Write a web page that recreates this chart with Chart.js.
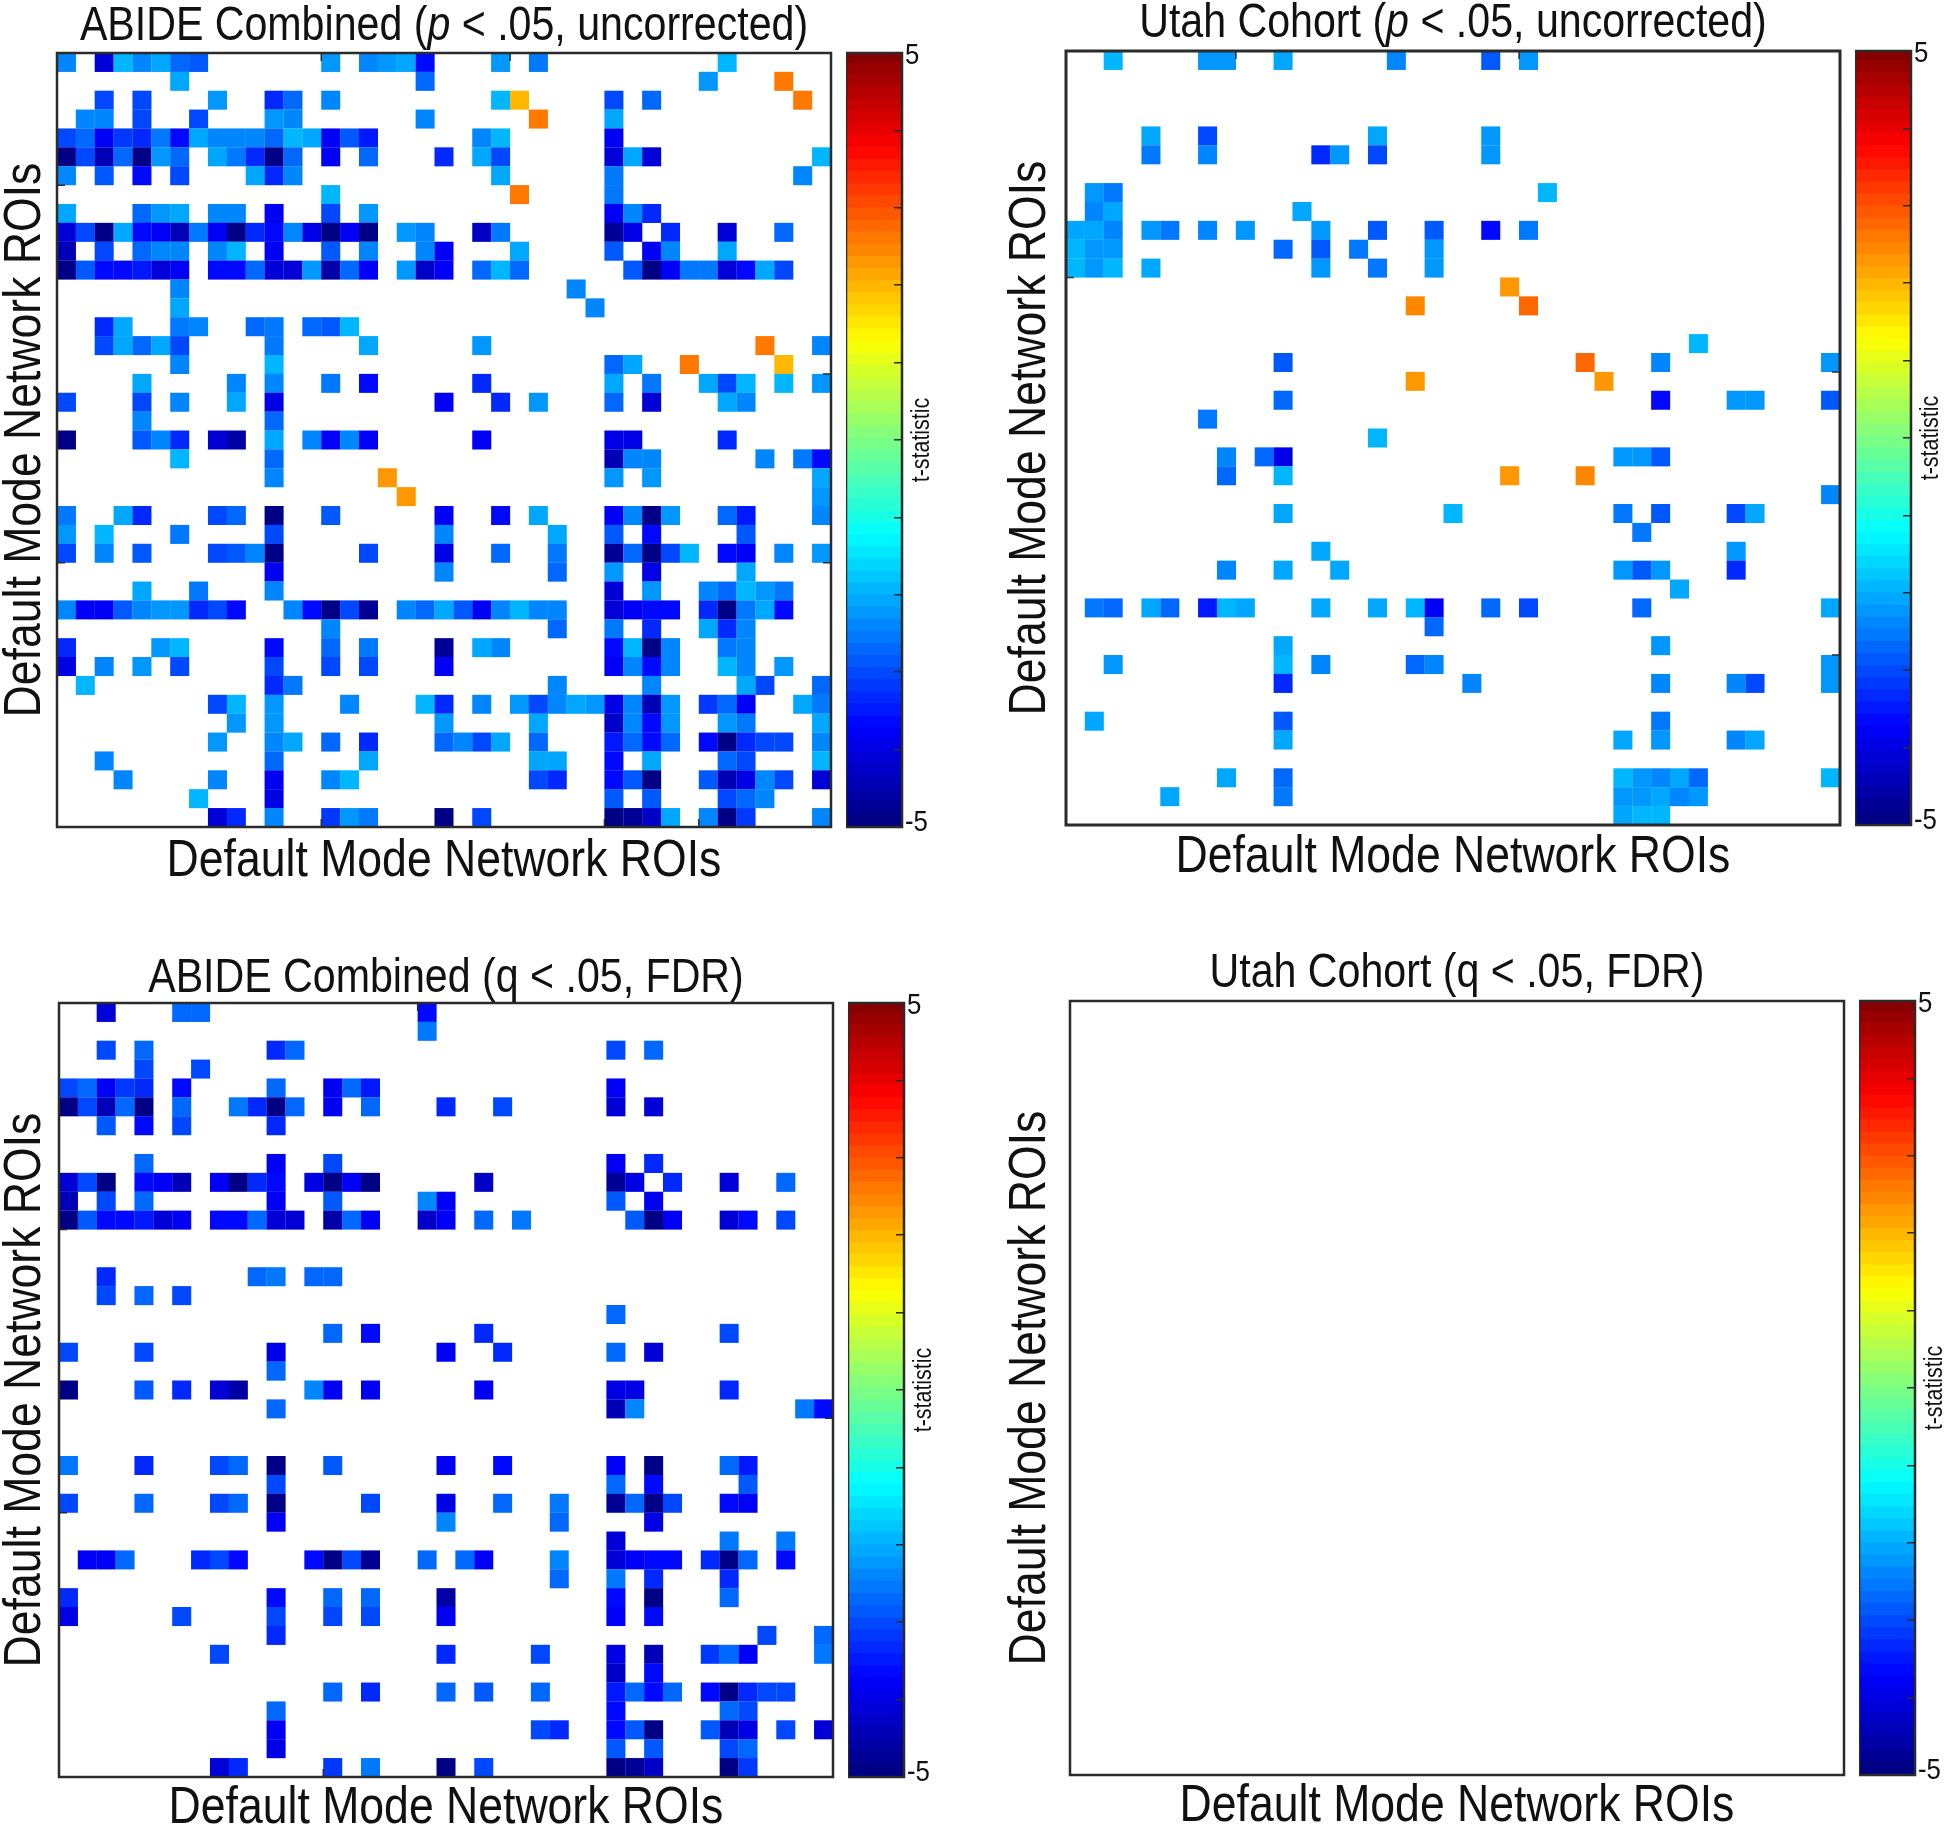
<!DOCTYPE html>
<html>
<head>
<meta charset="utf-8">
<script src="https://cdn.jsdelivr.net/npm/chart.js@4"></script>
<style>
html,body{margin:0;padding:0;background:#fff;width:1946px;height:1825px;overflow:hidden}
canvas{position:absolute}
</style>
</head>
<body>
<script>
// Each row of a matrix lists: column, t-value, column, t-value ...  (row index = position in the list)
const abideUncorrected = [
[0,-2.4,2,-4.1,3,-1.9,4,-2.4,5,-2.1,6,-2.7,7,-2.9,14,-2.2,16,-2.5,17,-2.3,18,-2.1,19,-3.7,23,-2.3,25,-2.6,35,-1.9],
[6,-2.1,19,-2.7,34,-2.3,38,2.5],
[2,-3.1,4,-3.0,8,-2.3,11,-3.4,12,-2.7,14,-2.5,23,-1.9,24,2.0,29,-3.0,31,-2.7,39,2.5],
[1,-2.4,2,-2.4,4,-3.1,7,-3.0,11,-2.2,12,-2.5,19,-2.4,25,2.5,29,-2.1],
[0,-3.1,1,-2.8,2,-3.8,3,-3.2,4,-3.4,5,-2.6,6,-3.7,7,-2.1,8,-2.5,9,-2.5,10,-2.4,11,-2.7,12,-1.9,13,-2.1,14,-3.9,15,-2.9,16,-3.5,22,-2.5,23,-1.9,29,-3.8],
[0,-5,1,-3.0,2,-4.4,3,-2.7,4,-5,5,-2.3,6,-2.8,8,-2.1,9,-2.6,10,-3.3,11,-5,12,-2.7,14,-3.8,16,-2.8,20,-3.3,22,-2.1,23,-3.0,29,-4.2,30,-2.1,31,-4.1,40,-1.9],
[0,-2.5,2,-2.9,4,-3.6,6,-3.1,10,-2.1,11,-3.4,12,-2.4,23,-2.1,29,-2.6,39,-2.4],
[14,-1.9,24,2.5,29,-2.6],
[0,-2.1,4,-2.8,5,-2.3,6,-2.1,8,-2.4,9,-2.4,11,-3.8,14,-3.0,16,-2.3,29,-3.9,30,-2.4,31,-3.4],
[0,-4.2,1,-3.0,2,-5,3,-2.1,4,-3.6,5,-3.8,6,-4.4,7,-2.6,8,-3.8,9,-5,10,-3.3,11,-3.7,12,-2.4,13,-4.0,14,-4.9,15,-3.8,16,-4.9,18,-2.2,19,-2.5,22,-4.3,23,-2.6,29,-4.8,30,-4.0,32,-3.4,35,-4.2,38,-2.7],
[0,-4.5,2,-3.0,4,-2.8,5,-2.4,6,-2.5,8,-2.5,9,-1.9,11,-3.8,14,-2.9,16,-2.5,19,-2.5,20,-3.8,24,-2.1,29,-2.9,31,-3.9,32,-2.4,35,-2.1],
[0,-5,1,-2.9,2,-3.7,3,-3.6,4,-3.5,5,-4.2,6,-3.9,8,-3.7,9,-3.6,10,-2.7,11,-4.1,12,-4.1,13,-2.3,14,-4.6,15,-2.8,16,-3.9,18,-2.3,19,-4.3,20,-3.9,22,-2.7,23,-2.0,24,-2.7,30,-2.9,31,-5,32,-3.9,33,-2.6,34,-2.6,35,-4.2,36,-3.7,37,-2.1,38,-3.1],
[6,-2.5,27,-2.4],
[6,-2.1,28,-2.4],
[2,-3.4,3,-2.1,6,-2.6,7,-2.4,10,-2.8,11,-2.6,13,-2.8,14,-2.9,15,-2.0],
[2,-3.1,3,-2.1,4,-2.8,5,-2.1,6,-3.1,11,-2.6,16,-2.1,22,-2.3,37,2.5,40,-2.5],
[6,-2.4,11,-1.9,29,-2.7,30,-2.1,33,2.5,38,2.0],
[4,-2.1,9,-2.5,11,-2.5,14,-2.6,16,-3.7,22,-3.3,29,-2.1,31,-2.6,34,-2.1,35,-3.0,36,-1.9,38,-1.9,40,-2.2],
[0,-3.1,4,-3.0,6,-2.4,9,-2.1,11,-4.0,20,-3.8,23,-3.3,25,-2.3,29,-2.8,31,-4.1,35,-2.1,36,-2.5],
[4,-2.4,11,-2.8],
[0,-4.9,4,-2.9,5,-2.4,6,-3.4,8,-4.1,9,-4.6,11,-2.1,13,-2.5,14,-3.8,15,-2.4,16,-3.8,22,-3.9,29,-4.0,30,-4.0,35,-3.3],
[6,-1.9,11,-2.8,29,-4.4,30,-2.5,31,-2.5,37,-2.4,39,-2.6,40,-3.7],
[11,-2.4,17,2.2,29,-2.3,31,-2.3,40,-2.1],
[18,2.2,40,-2.2],
[0,-2.6,3,-2.1,4,-3.4,8,-3.0,9,-2.7,11,-4.9,14,-2.9,20,-3.9,23,-3.7,25,-2.1,29,-3.9,30,-2.5,31,-5,32,-2.2,35,-2.8,36,-3.5,40,-2.5],
[0,-2.2,2,-1.9,6,-2.6,11,-3.1,20,-2.4,26,-2.1,29,-2.9,31,-3.7,36,-2.9],
[0,-3.1,2,-2.4,4,-2.9,8,-3.0,9,-2.9,10,-2.4,11,-5,16,-3.0,20,-4.0,23,-2.7,26,-2.6,29,-4.7,30,-2.8,31,-5,32,-3.1,33,-1.9,35,-3.7,36,-3.9,38,-2.5,40,-2.3],
[11,-3.8,20,-2.5,26,-2.8,29,-2.3,31,-4.0,36,-2.1],
[4,-2.1,7,-2.6,11,-2.5,29,-4.2,31,-2.3,34,-2.4,35,-2.7,36,-1.9,37,-2.3,38,-2.6],
[0,-2.5,1,-3.9,2,-3.9,3,-2.9,4,-2.4,5,-2.2,6,-2.2,7,-3.4,8,-3.0,9,-3.6,12,-2.5,13,-3.7,14,-4.9,15,-3.0,16,-4.8,18,-2.4,19,-2.7,20,-2.1,21,-2.9,22,-3.9,23,-2.5,24,-1.9,25,-2.5,26,-2.5,29,-4.1,30,-3.8,31,-3.6,32,-3.6,34,-3.3,35,-5,36,-2.6,37,-2.1,38,-3.6],
[14,-2.4,26,-2.8,29,-2.6,31,-3.3,34,-2.1,35,-3.4,36,-2.4],
[0,-3.4,5,-2.2,6,-1.9,11,-3.6,14,-2.7,16,-2.6,20,-4.7,22,-2.1,23,-2.5,29,-3.7,30,-1.9,31,-5,32,-2.4,35,-2.6,36,-2.4],
[0,-4.0,2,-2.5,4,-2.3,6,-3.1,11,-3.0,14,-3.0,16,-3.0,20,-3.9,29,-3.8,30,-2.5,31,-3.7,32,-2.4,35,-2.0,36,-2.5,38,-2.3],
[1,-1.9,11,-3.4,12,-2.6,26,-2.4,31,-2.5,36,-2.1,37,-3.0,40,-2.8],
[8,-3.0,9,-1.9,11,-2.2,15,-2.5,19,-1.9,20,-3.4,22,-2.4,24,-2.3,25,-3.0,26,-2.5,27,-2.1,28,-2.3,29,-4.0,30,-2.5,31,-4.4,32,-2.2,34,-3.2,35,-2.8,36,-3.8,39,-2.1,40,-2.6],
[9,-2.3,11,-2.2,20,-2.3,25,-2.1,29,-4.3,30,-2.4,31,-3.7,32,-2.3,35,-2.3,36,-2.6,40,-2.1],
[8,-2.3,11,-2.4,12,-2.1,14,-2.8,16,-3.4,20,-2.8,21,-2.4,22,-3.0,23,-2.1,25,-2.8,29,-3.5,30,-2.7,31,-3.7,32,-2.8,34,-3.7,35,-5,36,-3.3,37,-3.1,38,-3.0,40,-2.4],
[2,-2.4,11,-2.8,16,-2.1,25,-2.1,26,-2.1,29,-3.7,31,-2.1,35,-2.7,36,-3.1,40,-1.9],
[3,-2.4,8,-2.5,11,-3.9,14,-2.5,15,-1.9,25,-3.1,26,-3.4,29,-3.7,30,-2.9,31,-5,34,-2.9,35,-4.4,36,-4.0,37,-2.4,38,-3.1,40,-4.2],
[7,-1.9,11,-4.0,29,-2.9,31,-2.9,35,-3.0,36,-2.8,37,-2.4],
[8,-4.2,9,-3.4,11,-2.5,14,-3.2,15,-2.3,16,-2.6,20,-5,22,-3.1,29,-5,30,-4.7,31,-4.3,32,-2.1,34,-2.5,35,-5,36,-3.2,40,-2.4]
];
const utahUncorrected = [
[2,-1.9,7,-2.2,8,-2.2,11,-2.1,17,-2.4,22,-2.9,24,-2.2],
[],[],[],
[4,-2.1,7,-3.0,16,-2.1,22,-2.2],
[4,-2.6,7,-2.4,13,-3.4,14,-2.2,16,-3.0,22,-2.2],
[],
[1,-2.2,2,-2.6,25,-1.9],
[1,-2.4,2,-2.1,12,-2.1],
[0,-2.1,1,-2.1,2,-2.4,4,-2.3,5,-2.6,7,-2.4,9,-2.3,13,-2.3,16,-2.9,19,-2.9,22,-3.6,24,-2.6],
[0,-1.9,1,-2.2,2,-2.2,11,-2.8,13,-2.9,15,-2.6,19,-2.2],
[0,-2.0,1,-2.2,2,-1.9,4,-2.1,13,-2.3,16,-2.6,19,-2.2],
[23,2.2],
[18,2.4,24,2.8],
[],
[33,-1.9],
[11,-2.9,27,2.8,31,-2.5,40,-2.2],
[18,2.2,28,2.2],
[11,-2.8,31,-3.6,35,-2.2,36,-2.2,40,-2.9],
[7,-2.6],
[16,-1.9],
[8,-2.4,10,-2.8,11,-4.0,29,-2.2,30,-2.2,31,-2.9],
[8,-2.8,11,-1.9,23,2.2,27,2.4],
[40,-2.5],
[11,-2.1,20,-1.9,29,-2.6,31,-2.9,35,-3.1,36,-2.1],
[30,-2.6],
[13,-2.1,35,-2.3],
[8,-2.4,11,-2.1,14,-2.1,29,-2.2,30,-2.9,31,-2.2,35,-3.4],
[32,-2.1],
[1,-2.6,2,-2.8,4,-2.1,5,-2.8,7,-3.5,8,-1.9,9,-2.1,13,-2.1,16,-2.1,18,-1.9,19,-3.9,22,-2.8,24,-3.0,30,-2.8,40,-2.1],
[19,-2.7],
[11,-2.1,31,-2.3],
[2,-2.2,11,-1.9,13,-2.4,18,-2.8,19,-2.4,40,-2.2],
[11,-3.4,21,-2.5,31,-2.4,35,-2.4,36,-3.0,40,-2.2],
[],
[1,-2.1,11,-2.9,31,-2.6],
[11,-2.1,29,-2.1,31,-2.3,35,-2.5,36,-2.1],
[],
[8,-2.1,11,-2.8,29,-1.9,30,-2.3,31,-2.4,32,-2.1,33,-2.7,40,-1.9],
[5,-2.1,11,-2.6,29,-2.2,30,-2.2,31,-2.1,32,-2.5,33,-2.3],
[29,-2.1,30,-1.9,31,-2.0]
];
const abideFDR = [
[2,-4.2,6,-2.7,7,-2.8,19,-3.7],
[19,-2.6],
[2,-3.0,4,-2.8,11,-3.4,12,-2.7,29,-3.0,31,-2.7],
[4,-3.1,7,-3.0],
[0,-3.1,1,-2.8,2,-3.9,3,-3.2,4,-3.4,6,-3.7,11,-2.7,14,-3.9,15,-2.8,16,-3.5,29,-3.8],
[0,-5,1,-3.0,2,-4.4,3,-2.7,4,-5,6,-2.8,9,-2.6,10,-3.3,11,-5,12,-2.7,14,-3.8,16,-2.8,20,-3.3,23,-3.0,29,-4.2,31,-4.1],
[2,-2.9,4,-3.6,6,-3.1,11,-3.4],
[],
[4,-2.8,11,-3.8,14,-3.0,29,-3.9,31,-3.4],
[0,-4.2,1,-3.0,2,-5,4,-3.6,5,-3.8,6,-4.4,8,-3.8,9,-5,10,-3.3,11,-3.7,13,-4.0,14,-4.9,15,-3.8,16,-4.9,22,-4.3,29,-4.8,30,-4.0,32,-3.4,35,-4.2,38,-2.7],
[0,-4.5,2,-3.0,4,-2.8,11,-3.8,14,-2.9,19,-2.5,20,-3.8,29,-2.9,31,-3.9],
[0,-5,1,-2.9,2,-3.7,3,-3.6,4,-3.5,5,-4.2,6,-3.9,8,-3.7,9,-3.6,10,-2.7,11,-4.1,12,-4.1,14,-4.6,15,-2.8,16,-3.9,19,-4.3,20,-3.9,22,-2.7,24,-2.6,30,-2.9,31,-5,32,-3.9,35,-4.2,36,-3.7,38,-3.1],
[],[],
[2,-3.4,10,-2.8,11,-2.6,13,-2.8,14,-2.7],
[2,-3.1,4,-2.8,6,-3.1],
[29,-2.7],
[14,-2.7,16,-3.7,22,-3.3,35,-3.0],
[0,-3.1,4,-3.0,11,-4.0,20,-3.8,23,-3.3,29,-2.7,31,-4.1],
[11,-2.8],
[0,-4.9,4,-2.9,6,-3.4,8,-4.1,9,-4.6,13,-2.5,14,-3.8,16,-3.8,22,-3.9,29,-4.0,30,-4.0,35,-3.3],
[11,-2.8,29,-4.4,30,-2.5,39,-2.6,40,-3.7],
[],[],
[0,-2.6,4,-3.4,8,-3.0,9,-2.7,11,-4.9,14,-2.9,20,-3.9,23,-3.7,29,-3.9,31,-5,35,-2.8,36,-3.5],
[11,-3.1,29,-2.8,31,-3.7,36,-2.9],
[0,-3.1,4,-2.8,8,-3.0,9,-2.8,11,-5,16,-3.0,20,-4.0,23,-2.7,26,-2.6,29,-4.7,30,-2.8,31,-5,32,-3.1,35,-3.7,36,-3.9],
[11,-3.8,20,-2.5,26,-2.8,31,-4.0],
[29,-4.2,35,-2.6,38,-2.6],
[1,-3.9,2,-3.9,3,-2.8,7,-3.4,8,-3.0,9,-3.6,13,-3.7,14,-4.9,15,-3.0,16,-4.8,19,-2.8,21,-2.8,22,-3.9,26,-2.5,29,-4.1,30,-3.8,31,-3.6,32,-3.6,34,-3.3,35,-5,36,-2.7,38,-3.6],
[26,-2.8,29,-2.6,31,-3.3,35,-3.4],
[0,-3.4,11,-3.6,14,-2.8,16,-2.7,20,-4.6,29,-3.7,31,-5,35,-2.7],
[0,-4.0,6,-3.0,11,-3.0,14,-3.0,16,-3.0,20,-3.9,29,-3.8,31,-3.7],
[11,-3.4,37,-3.0,40,-2.8],
[8,-3.0,20,-3.4,25,-3.0,29,-4.0,31,-4.4,34,-3.2,35,-2.8,36,-3.8,40,-2.6],
[29,-4.3,31,-3.7],
[14,-2.8,16,-3.4,20,-2.8,22,-2.9,25,-2.8,29,-3.5,30,-2.7,31,-3.7,32,-2.8,34,-3.7,35,-5,36,-3.3,37,-3.1,38,-3.0],
[11,-2.8,29,-3.7,35,-2.7,36,-3.1],
[11,-3.9,25,-3.1,26,-3.4,29,-3.7,30,-2.9,31,-5,34,-2.9,35,-4.4,36,-4.0,38,-3.1,40,-4.2],
[11,-4.0,29,-2.9,31,-2.9,35,-3.0,36,-2.8],
[8,-4.2,9,-3.4,14,-3.2,16,-2.6,20,-5,22,-3.1,29,-5,30,-4.7,31,-4.3,35,-5,36,-3.2]
];
const utahFDR = [];

const panelTitles = ["ABIDE Combined (p < .05, uncorrected)","Utah Cohort (p < .05, uncorrected)","ABIDE Combined (q < .05, FDR)","Utah Cohort (q < .05, FDR)"];
const axisLabel = "Default Mode Network ROIs";
const colorbarLabel = "t-statistic";
const colorbarTicks = [-5,-4,-3,-2,-1,0,1,2,3,4,5];
const roiCount = 41;
const colorLevels = 64;

// plot-box placement and text offsets of each panel (page px)
const placements = [
  {left:57,  top:53,  size:774, labelSpace:57, titleGap:2,   xLabelPad:1.5, lineW:2.5, marks:{top:[14,24],left:[7,27],right:[17,27],bottom:[14,29,34]}},
  {left:1066,top:51,  size:774, labelSpace:61, titleGap:3.5, xLabelPad:3,   lineW:3,   marks:{top:[9,24],left:[12],right:[17,32],bottom:[]}},
  {left:59,  top:1003,size:774, labelSpace:59, titleGap:0,   xLabelPad:4,   lineW:2.5, marks:{top:[19],left:[12,27],right:[22],bottom:[14]}},
  {left:1070,top:1001,size:774, labelSpace:65, titleGap:3.5, xLabelPad:4,   lineW:2.5, marks:{top:[],left:[],right:[],bottom:[]}}
];
const matrices = [abideUncorrected, utahUncorrected, abideFDR, utahFDR];
const FONT = '"Liberation Sans",Arial,sans-serif';
const INK = '#111';
const TEXT_SQUEEZE = 0.857; // the reference's type is horizontally condensed
const LABEL_NUDGE = {'5':2.5,'-5':-4}; // the end labels of the colour bar sit slightly inside its ends

function jet(t){ // 64-step jet over -5..5
  const i = Math.min(colorLevels-1, Math.max(0, Math.floor((t+5)/10*colorLevels)));
  const v = (i+0.5)/colorLevels;
  const r = Math.max(0,Math.min(1,Math.min(4*v-1.5,-4*v+4.5)));
  const g = Math.max(0,Math.min(1,Math.min(4*v-0.5,-4*v+3.5)));
  const b = Math.max(0,Math.min(1,Math.min(4*v+0.5,-4*v+2.5)));
  return `rgb(${Math.round(r*255)},${Math.round(g*255)},${Math.round(b*255)})`;
}
function addCanvas(left,top,w,h){
  const c = document.createElement('canvas');
  c.style.left = left+'px'; c.style.top = top+'px';
  c.style.width = w+'px'; c.style.height = h+'px';
  c.width = w; c.height = h;
  document.body.appendChild(c);
  const ctx = c.getContext('2d'), plain = ctx.fillText.bind(ctx);
  ctx.fillText = (s,x,y)=>{
    ctx.save(); ctx.translate(x,y+(LABEL_NUDGE[s]||0)); ctx.scale(TEXT_SQUEEZE,1);
    const at = s.indexOf('(p ');
    if(at<0){ plain(s,0,0); }
    else { // the statistic "p" is italic in the panel titles
      const head = s.slice(0,at+1), tail = s.slice(at+2), base = ctx.font, slanted = 'italic '+base;
      const hw = ctx.measureText(head).width, tw = ctx.measureText(tail).width;
      ctx.font = slanted; const pw = ctx.measureText('p').width; ctx.font = base;
      let pos = -(hw+pw+tw)/2;
      ctx.textAlign = 'left';
      plain(head,pos,0); pos += hw;
      ctx.font = slanted; plain('p',pos,0); pos += pw;
      ctx.font = base; plain(tail,pos,0);
    }
    ctx.restore();
  };
  return c;
}
const frame = (color,lw,marks)=>({id:'frame',afterDatasetsDraw(chart){
  const a = chart.chartArea, x = chart.ctx, len = 8;
  x.save(); x.strokeStyle = color; x.lineWidth = lw;
  x.strokeRect(a.left,a.top,a.right-a.left,a.bottom-a.top);
  if(marks){
    const sx = chart.scales.x, sy = chart.scales.y;
    x.lineWidth = 1.5; x.beginPath();
    marks.top.forEach(k=>{const p=sx.getPixelForValue(k-0.5);x.moveTo(p,a.top);x.lineTo(p,a.top+len);});
    marks.bottom.forEach(k=>{const p=sx.getPixelForValue(k-0.5);x.moveTo(p,a.bottom);x.lineTo(p,a.bottom-len);});
    marks.left.forEach(k=>{const p=sy.getPixelForValue(k-0.5);x.moveTo(a.left,p);x.lineTo(a.left+len,p);});
    marks.right.forEach(k=>{const p=sy.getPixelForValue(k-0.5);x.moveTo(a.right,p);x.lineTo(a.right-len,p);});
    x.stroke();
  }
  x.restore();
}});

placements.forEach((p,idx)=>{
  const cells = [];
  (matrices[idx]||[]).forEach((row,r)=>{
    for(let k=0;k<row.length;k+=2) cells.push({x:row[k],y:r,t:row[k+1]});
  });
  const topSpace = idx<2 ? 53 : 60, bottomSpace = 62, rightSpace = 3;
  const titleSize = 48, labelSize = 52;
  const cellRadius = p.size/roiCount*Math.SQRT1_2+0.1;
  const cv = addCanvas(p.left-p.labelSpace,p.top-topSpace,p.labelSpace+p.size+rightSpace,topSpace+p.size+bottomSpace);
  new Chart(cv,{
    type:'scatter',
    data:{datasets:[{data:cells,pointStyle:'rect',borderWidth:0,pointBorderWidth:0,
      pointRadius:cellRadius,pointHoverRadius:cellRadius,
      pointBackgroundColor:c=>jet(c.raw?c.raw.t:0)}]},
    options:{
      responsive:false,animation:false,
      layout:{autoPadding:false,padding:{left:0,right:rightSpace,top:0,bottom:0}},
      plugins:{legend:{display:false},tooltip:{enabled:false},
        title:{display:true,text:panelTitles[idx],fullSize:false,color:INK,
          font:{family:FONT,size:titleSize,weight:'normal',lineHeight:1},
          padding:{top:topSpace-titleSize-p.titleGap,bottom:p.titleGap}}},
      scales:{
        x:{type:'linear',min:-0.5,max:roiCount-0.5,ticks:{display:false},grid:{display:false},border:{display:false},
          title:{display:true,text:axisLabel,color:INK,font:{family:FONT,size:labelSize,weight:'normal',lineHeight:1},padding:{top:0,bottom:p.xLabelPad}},
          afterFit:s=>{s.height=bottomSpace;}},
        y:{type:'linear',min:-0.5,max:roiCount-0.5,reverse:true,ticks:{display:false},grid:{display:false},border:{display:false},
          title:{display:true,text:axisLabel,color:INK,font:{family:FONT,size:labelSize,weight:'normal',lineHeight:1},padding:{top:0,bottom:0}},
          afterFit:s=>{s.width=p.labelSpace;}}
      }
    },
    plugins:[frame('#2b2b2b',p.lineW,p.marks)]
  });

  // colour bar
  const barLeft = p.left+789, barW = 56, pad = 24, axisW = 100;
  const cb = addCanvas(barLeft,p.top-pad,barW+axisW,p.size+pad*2);
  const bands = [];
  for(let i=0;i<colorLevels;i++){
    const lo = -5+10*i/colorLevels, hi = -5+10*(i+1)/colorLevels;
    bands.push({data:[[lo,i===colorLevels-1?hi:hi+0.03]],backgroundColor:jet((lo+hi)/2),
      borderWidth:0,grouped:false,barPercentage:1,categoryPercentage:1});
  }
  new Chart(cb,{
    type:'bar',
    data:{labels:[colorbarLabel],datasets:bands},
    options:{
      responsive:false,animation:false,
      layout:{autoPadding:false,padding:{top:pad,bottom:pad,left:0,right:0}},
      plugins:{legend:{display:false},tooltip:{enabled:false},title:{display:false}},
      scales:{
        x:{type:'category',display:false,grid:{display:false}},
        y:{type:'linear',position:'right',min:-5,max:5,
          afterBuildTicks:s=>{s.ticks=colorbarTicks.map(v=>({value:v}));},
          ticks:{color:INK,padding:11,font:{family:FONT,size:30},callback:v=>Math.abs(v)===5?String(v):''},
          grid:{drawOnChartArea:false,tickLength:-8,tickColor:'#2b2b2b',lineWidth:1.5,z:2},
          border:{display:false},
          afterFit:s=>{s.width=axisW;s.paddingTop=0;s.paddingBottom=0;}}
      }
    },
    plugins:[frame('#2b2b2b',2.5),{id:'cbLabel',afterDraw(chart){
      const x=chart.ctx,a=chart.chartArea;
      x.save();x.translate(a.right+20,(a.top+a.bottom)/2);x.rotate(-Math.PI/2);
      x.font='25px '+FONT;x.fillStyle=INK;x.textAlign='center';x.textBaseline='middle';
      x.fillText(colorbarLabel,0,0);x.restore();
    }}]
  });
});
</script>
</body>
</html>
